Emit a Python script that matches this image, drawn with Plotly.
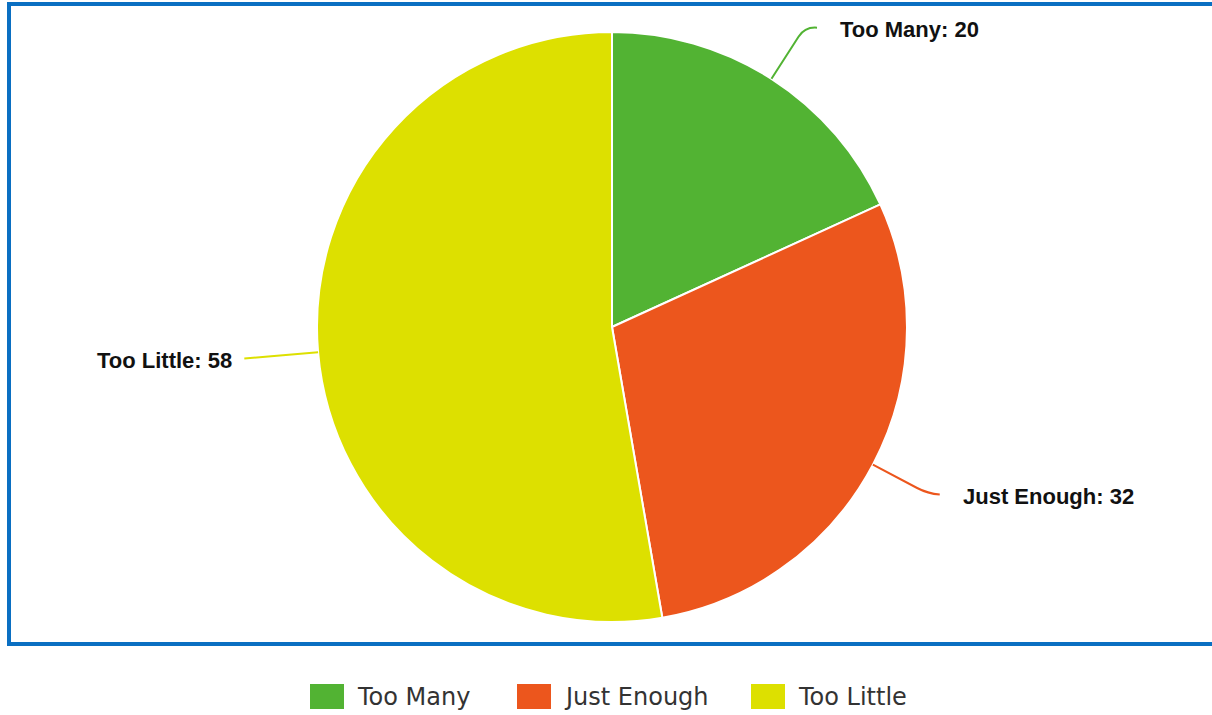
import numpy as np
import plotly.graph_objects as go

# ---- data ----
categories = ["Too Many", "Just Enough", "Too Little"]
values = [20, 32, 58]
colors = ["#52b333", "#ec561d", "#dde000"]

# ---- layout constants (pixels) ----
W, H = 1212, 715
cx, cy, R = 612, 327, 295
legend_x = [310, 517, 751]


def px(x):
    return x / W


def py(y):
    return 1 - y / H


fig = go.Figure()
fig.add_trace(go.Pie(
    labels=categories,
    values=values,
    marker=dict(colors=colors, line=dict(color="white", width=2)),
    sort=False,
    direction="clockwise",
    rotation=0,
    textinfo="none",
    showlegend=False,
    hoverinfo="label+value",
    domain=dict(x=[px(cx - R), px(cx + R)], y=[py(cy + R), py(cy - R)]),
))

shapes = []
annotations = []

# border
shapes.append(dict(type="rect", xref="paper", yref="paper",
                   x0=px(9), x1=px(1216), y0=py(644), y1=py(4),
                   line=dict(color="#0a6fc2", width=4), fillcolor="rgba(0,0,0,0)"))

# connectors and labels, computed from the data
total = float(sum(values))
cum = np.cumsum([0] + values)
for i, (cat, val, col) in enumerate(zip(categories, values, colors)):
    mid = (cum[i] + val / 2) / total * 2 * np.pi
    ux, uy = np.sin(mid), -np.cos(mid)
    p0 = (cx + R * ux, cy + R * uy)
    p1 = (cx + (R + 62) * ux, cy + (R + 62) * uy)
    pa = (cx + (R + 50) * ux, cy + (R + 50) * uy)
    side = 1 if ux >= 0 else -1
    p2 = (p1[0] + 12 * side, p1[1] + 1)
    path = (f"M {px(p0[0])},{py(p0[1])} L {px(pa[0])},{py(pa[1])} "
            f"Q {px(p1[0])},{py(p1[1])} {px(p2[0])},{py(p2[1])}")
    shapes.append(dict(type="path", xref="paper", yref="paper", path=path,
                       line=dict(color=col, width=2)))
    gap = 21 if side > 0 else 10
    annotations.append(dict(
        x=px(p2[0] + gap * side), y=py(p2[1] + 2), xref="paper", yref="paper",
        text=f"<b>{cat}: {val}</b>", showarrow=False,
        xanchor="left" if side > 0 else "right", yanchor="middle",
        font=dict(family="Liberation Sans, Arial, sans-serif", size=22, color="#111111"),
    ))

# legend
for cat, col, lx in zip(categories, colors, legend_x):
    shapes.append(dict(type="rect", xref="paper", yref="paper",
                       x0=px(lx), x1=px(lx + 34), y0=py(709), y1=py(684),
                       fillcolor=col, line=dict(width=0)))
    annotations.append(dict(
        x=px(lx + 45), y=py(697), xref="paper", yref="paper",
        text=cat, showarrow=False, xanchor="left", yanchor="middle",
        font=dict(family="DejaVu Sans", size=24, color="#333333"),
    ))

fig.update_layout(
    width=W, height=H,
    margin=dict(l=0, r=0, t=0, b=0),
    paper_bgcolor="white",
    plot_bgcolor="white",
    shapes=shapes,
    annotations=annotations,
    showlegend=False,
)

fig.write_html(
    "out.html",
    config={"displayModeBar": False},
    post_script="document.body.style.margin='0';document.body.style.overflow='hidden';",
)
